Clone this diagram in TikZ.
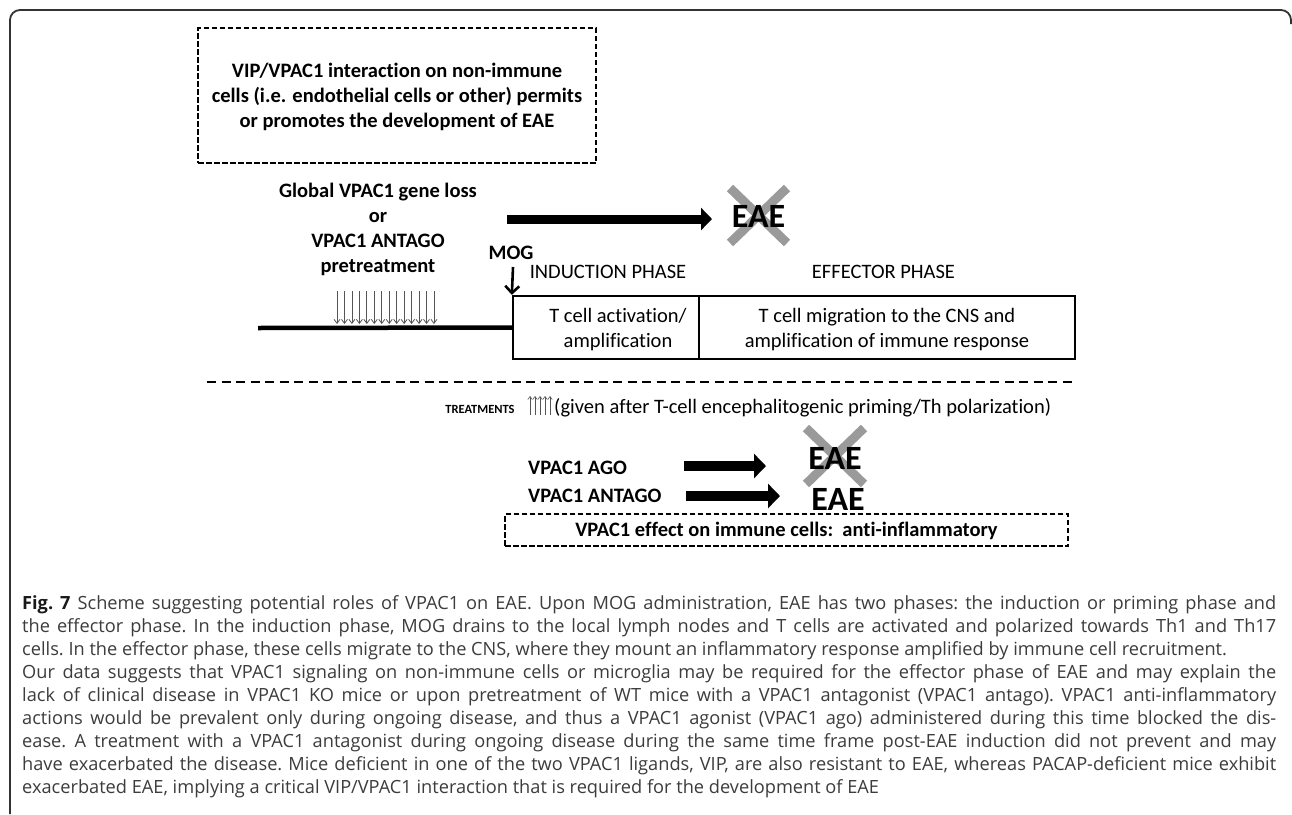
\documentclass[tikz,border=0pt]{standalone}
\usepackage{fontspec}
\setmainfont{Carlito}[Ligatures={NoCommon}]
\newfontfamily\capfont{Open Sans}
\usetikzlibrary{arrows.meta}
\definecolor{framegray}{HTML}{333333}
\definecolor{crossgray}{HTML}{9A9A9A}
\definecolor{captext}{HTML}{3C3C3C}
\definecolor{thingray}{HTML}{555555}
\begin{document}
\begin{tikzpicture}[x=1pt,y=-1pt,
  frameline/.style={draw=framegray, line width=1.8pt, rounded corners=10pt},
  dbox/.style={draw=black, line width=2pt, dash pattern=on 5.5pt off 2.5pt, inner sep=0pt},
  lbl/.style={font=\fontsize{20.5}{25}\selectfont, inner sep=0pt, align=center},
  lblb/.style={font=\fontsize{20.5}{25}\selectfont\bfseries, inner sep=0pt, align=center},
  eaelbl/.style={font=\fontsize{34}{36}\selectfont\bfseries, inner sep=0pt},
  bigarrow/.style={draw=black, line width=9pt, -{Triangle[length=11pt,width=22pt]}},
  bigarrowb/.style={draw=black, line width=10pt, -{Triangle[length=12pt,width=24pt]}},
  crossline/.style={draw=crossgray, line width=9pt},
  phasebox/.style={draw=black, line width=2.3pt, inner sep=0pt},
  thinarr/.style={draw=thingray, line width=0.8pt, -{Straight Barb[length=4pt,width=6pt]}},
  mogarr/.style={draw=black, line width=2.6pt, -{Straight Barb[length=7pt,width=14pt]}},
  sepline/.style={draw=black, line width=2.4pt, dash pattern=on 9pt off 5.5pt},
  timeline/.style={draw=black, line width=4.5pt}
]
\useasboundingbox (0,0) rectangle (1292,814);
\fill[white] (0,0) rectangle (1292,814);

% outer frame
\draw[frameline] (10,814) -- (10,10) -- (1291,10) -- (1291,24);

% top dashed box
\node[dbox, minimum width=398pt, minimum height=135pt] (topbox) at (397,95.5) {};
\node[lblb] (toptxt) at (397,97) {VIP/VPAC1 interaction on non-immune\\cells (i.e. endothelial cells or other) permits\\or promotes the development of EAE};

% global loss label
\node[lblb] (global) at (378,229) {Global VPAC1 gene loss\\or\\VPAC1 ANTAGO\\pretreatment};

% top arrow and crossed EAE
\coordinate (a1s) at (507,219);
\coordinate (a1e) at (712,219);
\draw[bigarrow] (a1s) -- (a1e);
\draw[crossline] (730,188) -- (787,243);
\draw[crossline] (787,188) -- (730,243);
\node[eaelbl] (eae1) at (758.5,216) {EAE};

% phase boxes
\node[phasebox, minimum width=186pt, minimum height=63pt] (ind) at (606,327.5) {};
\node[phasebox, minimum width=376pt, minimum height=63pt] (eff) at (887,327.5) {};
\node[lbl] (indtxt) at (618,330) {T cell activation/\\amplification};
\node[lbl] (efftxt) at (887,330) {T cell migration to the CNS and\\amplification of immune response};
\node[lbl] (indlbl) at (608,272) {INDUCTION PHASE};
\node[lbl] (efflbl) at (883.5,272) {EFFECTOR PHASE};

% MOG
\node[lblb] (mog) at (511,253) {MOG};
\coordinate (mogs) at (513,267);
\draw[mogarr] (mogs) -- (ind.north west);

% timeline
\coordinate (tl0) at (258,328);
\draw[timeline] (tl0) -- (ind.west);

% pretreatment arrows
\foreach \i in {0,...,13}{
  \draw[thinarr] (337+\i*7.46,291) -- (337+\i*7.46,324);
}

% separator
\draw[sepline] (207,382) -- (1075,382);

% treatments
\node[font=\fontsize{12.5}{14}\selectfont\bfseries, inner sep=0pt, anchor=base] (treat) at (480,413) {TREATMENTS};
\foreach \i in {0,...,4}{
  \draw[draw=thingray, line width=0.6pt, -{Straight Barb[length=3pt,width=4.5pt]}] (530+\i*5,415) -- (530+\i*5,396);
}
\node[font=\fontsize{20.5}{24}\selectfont, inner sep=0pt, anchor=base west] (given) at (554,413) {(given after T-cell encephalitogenic priming/Th polarization)};

% VPAC1 AGO
\node[lblb, anchor=west] (ago) at (528,468) {VPAC1 AGO};
\coordinate (a2s) at (684,466);
\coordinate (a2e) at (766,466);
\draw[bigarrowb] (a2s) -- (a2e);
\draw[crossline] (806,428) -- (864,484);
\draw[crossline] (864,428) -- (806,484);
\node[eaelbl] (eae2) at (835,458) {EAE};

% VPAC1 ANTAGO
\node[lblb, anchor=west] (antago) at (528,496) {VPAC1 ANTAGO};
\coordinate (a3s) at (686,496);
\coordinate (a3e) at (780,496);
\draw[bigarrowb] (a3s) -- (a3e);
\node[eaelbl] (eae3) at (838,499) {EAE};

% bottom dashed box
\node[dbox, minimum width=563pt, minimum height=32pt] (botbox) at (786.5,530) {};
\node[lblb] (bottxt) at (786.5,530.5) {VPAC1 effect on immune cells:\ \ anti-inflammatory};

% caption
\node[anchor=base west, inner sep=0pt] (cap) at (22,596) {\parbox[t]{1254pt}{\capfont\fontsize{18.2}{23}\selectfont\color{captext}\frenchspacing\hbadness=10000\hfuzz=30pt\spaceskip=0.26em plus 1em minus 0.1em
{\bfseries\color{black!90}Fig.~7} Scheme suggesting potential roles of VPAC1 on EAE. Upon MOG administration, EAE has two phases: the induction or priming phase and\linebreak
the effector phase. In the induction phase, MOG drains to the local lymph nodes and T cells are activated and polarized towards Th1 and Th17\linebreak
cells. In the effector phase, these cells migrate to the CNS, where they mount an inflammatory response amplified by immune cell recruitment.\par
Our data suggests that VPAC1 signaling on non-immune cells or microglia may be required for the effector phase of EAE and may explain the\linebreak
lack of clinical disease in VPAC1 KO mice or upon pretreatment of WT mice with a VPAC1 antagonist (VPAC1 antago). VPAC1 anti-inflammatory\linebreak
actions would be prevalent only during ongoing disease, and thus a VPAC1 agonist (VPAC1 ago) administered during this time blocked the dis-\linebreak
ease. A treatment with a VPAC1 antagonist during ongoing disease during the same time frame post-EAE induction did not prevent and may\linebreak
have exacerbated the disease. Mice deficient in one of the two VPAC1 ligands, VIP, are also resistant to EAE, whereas PACAP-deficient mice exhibit\linebreak
exacerbated EAE, implying a critical VIP/VPAC1 interaction that is required for the development of EAE}};
\end{tikzpicture}
\end{document}
